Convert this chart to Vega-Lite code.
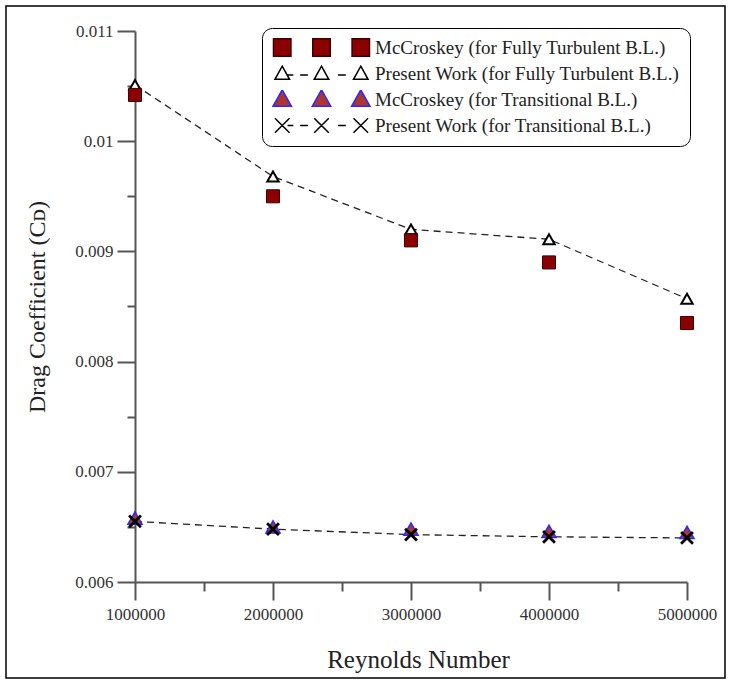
{
  "$schema": "https://vega.github.io/schema/vega-lite/v6.json",
  "width": 719,
  "height": 672,
  "autosize": "none",
  "padding": {"left": 6, "top": 6, "right": 4, "bottom": 5},
  "config": {"view": {"stroke": "black", "strokeWidth": 1.5}, "font": "Liberation Serif"},
  "data": {"values": [
    {"re": 1000000, "cd": 0.01042, "series": "McCroskey (for Fully Turbulent B.L.)"},
    {"re": 2000000, "cd": 0.00950, "series": "McCroskey (for Fully Turbulent B.L.)"},
    {"re": 3000000, "cd": 0.00910, "series": "McCroskey (for Fully Turbulent B.L.)"},
    {"re": 4000000, "cd": 0.00890, "series": "McCroskey (for Fully Turbulent B.L.)"},
    {"re": 5000000, "cd": 0.00835, "series": "McCroskey (for Fully Turbulent B.L.)"},
    {"re": 1000000, "cd": 0.01051, "series": "Present Work (for Fully Turbulent B.L.)"},
    {"re": 2000000, "cd": 0.00968, "series": "Present Work (for Fully Turbulent B.L.)"},
    {"re": 3000000, "cd": 0.00920, "series": "Present Work (for Fully Turbulent B.L.)"},
    {"re": 4000000, "cd": 0.00911, "series": "Present Work (for Fully Turbulent B.L.)"},
    {"re": 5000000, "cd": 0.00857, "series": "Present Work (for Fully Turbulent B.L.)"},
    {"re": 1000000, "cd": 0.00658, "series": "McCroskey (for Transitional B.L.)"},
    {"re": 2000000, "cd": 0.00650, "series": "McCroskey (for Transitional B.L.)"},
    {"re": 3000000, "cd": 0.00648, "series": "McCroskey (for Transitional B.L.)"},
    {"re": 4000000, "cd": 0.00646, "series": "McCroskey (for Transitional B.L.)"},
    {"re": 5000000, "cd": 0.00645, "series": "McCroskey (for Transitional B.L.)"},
    {"re": 1000000, "cd": 0.00655, "series": "Present Work (for Transitional B.L.)"},
    {"re": 2000000, "cd": 0.00648, "series": "Present Work (for Transitional B.L.)"},
    {"re": 3000000, "cd": 0.00643, "series": "Present Work (for Transitional B.L.)"},
    {"re": 4000000, "cd": 0.00641, "series": "Present Work (for Transitional B.L.)"},
    {"re": 5000000, "cd": 0.00640, "series": "Present Work (for Transitional B.L.)"}
  ]},
  "resolve": {"axis": {"x": "independent", "y": "independent"}},
  "layer": [
    {
      "transform": [{"filter": "indexof(datum.series, 'Present') == 0"}],
      "mark": {"type": "line", "stroke": "#222", "strokeWidth": 1.3, "strokeDash": [7, 5]},
      "encoding": {
        "x": {"field": "re", "type": "quantitative",
          "scale": {"domain": [1000000, 5000000], "range": [129, 681], "nice": false, "zero": false},
          "axis": {"orient": "bottom", "offset": -96, "values": [1000000, 2000000, 3000000, 4000000, 5000000],
            "format": "d", "grid": false, "labelFlush": false, "tickSize": 18, "tickWidth": 2, "tickColor": "#555", "domainColor": "#555", "domainWidth": 2,
            "labelFont": "Liberation Serif", "labelFontSize": 17, "labelColor": "#333", "labelPadding": 6,
            "title": "Reynolds Number", "titleX": 412, "titleFont": "Liberation Serif", "titleFontSize": 25, "titleFontWeight": "normal", "titleColor": "#222", "titlePadding": 25}},
        "y": {"field": "cd", "type": "quantitative",
          "scale": {"domain": [0.006, 0.011], "range": [576, 25], "nice": false, "zero": false},
          "axis": {"orient": "left", "offset": -129, "values": [0.006, 0.007, 0.008, 0.009, 0.01, 0.011],
            "format": ".3~f", "grid": false, "labelFlush": false, "tickSize": 18, "tickWidth": 2, "tickColor": "#555", "domainColor": "#555", "domainWidth": 2,
            "labelFont": "Liberation Serif", "labelFontSize": 17, "labelColor": "#333", "labelPadding": 4,
            "title": "Drag Coefficient (Cᴅ)", "titleFont": "Liberation Serif", "titleFontSize": 24, "titleFontWeight": "normal", "titleColor": "#222", "titlePadding": 25}},
        "detail": {"field": "series", "type": "nominal"}
      }
    },
    {
      "transform": [{"filter": "datum.series == 'Present Work (for Fully Turbulent B.L.)'"}],
      "mark": {"type": "point", "shape": "triangle-up", "filled": true, "fill": "white", "stroke": "black", "strokeWidth": 2, "size": 130, "opacity": 1},
      "encoding": {
        "x": {"field": "re", "type": "quantitative",
          "axis": {"orient": "bottom", "offset": -96, "values": [1500000, 2500000, 3500000, 4500000],
            "labels": false, "domain": false, "grid": false, "tickSize": 9, "tickWidth": 2, "tickColor": "#555", "title": null}},
        "y": {"field": "cd", "type": "quantitative",
          "axis": {"orient": "left", "offset": -129, "values": [0.0065, 0.0075, 0.0085, 0.0095, 0.0105],
            "labels": false, "domain": false, "grid": false, "tickSize": 8, "tickWidth": 2, "tickColor": "#555", "title": null}}
      }
    },
    {
      "transform": [{"filter": "datum.series == 'McCroskey (for Fully Turbulent B.L.)'"}],
      "mark": {"type": "point", "shape": "square", "filled": true, "fill": "#8b0000", "stroke": "#3b0000", "strokeWidth": 1, "size": 170, "opacity": 1},
      "encoding": {
        "x": {"field": "re", "type": "quantitative", "axis": null},
        "y": {"field": "cd", "type": "quantitative", "axis": null}
      }
    },
    {
      "transform": [{"filter": "datum.series == 'McCroskey (for Transitional B.L.)'"}],
      "mark": {"type": "point", "shape": "triangle-up", "filled": true, "fill": "#b0352c", "stroke": "#2a2aff", "strokeWidth": 1.5, "size": 200, "opacity": 1},
      "encoding": {
        "x": {"field": "re", "type": "quantitative", "axis": null},
        "y": {"field": "cd", "type": "quantitative", "axis": null}
      }
    },
    {
      "transform": [{"filter": "datum.series == 'Present Work (for Transitional B.L.)'"}],
      "mark": {"type": "point", "shape": "M-1,-1L1,1M-1,1L1,-1", "filled": false, "stroke": "black", "strokeWidth": 2.8, "size": 140, "opacity": 1},
      "encoding": {
        "x": {"field": "re", "type": "quantitative", "axis": null},
        "y": {"field": "cd", "type": "quantitative", "axis": null}
      }
    },
    {
      "transform": [{"filter": "datum.re < 0"}],
      "mark": {"type": "point", "filled": true},
      "encoding": {
        "x": {"field": "re", "type": "quantitative", "axis": null},
        "y": {"field": "cd", "type": "quantitative", "axis": null},
        "shape": {"field": "series", "type": "nominal",
          "scale": {
            "domain": ["McCroskey (for Fully Turbulent B.L.)", "Present Work (for Fully Turbulent B.L.)", "McCroskey (for Transitional B.L.)", "Present Work (for Transitional B.L.)"],
            "range": [
              "M-0.99,-0.18H-0.63V0.18H-0.99Z M-0.18,-0.18H0.18V0.18H-0.18Z M0.63,-0.18H0.99V0.18H0.63Z",
              "M-0.81,-0.15L-0.66,0.12L-0.96,0.12Z M0,-0.15L0.15,0.12L-0.15,0.12Z M0.81,-0.15L0.96,0.12L0.66,0.12Z M-0.70,0.03L-0.58,0.03 M-0.44,0.03L-0.28,0.03 M0.34,0.03L0.50,0.03",
              "M-0.81,-0.2L-0.62,0.14L-1,0.14Z M0,-0.2L0.19,0.14L-0.19,0.14Z M0.81,-0.2L1,0.14L0.62,0.14Z",
              "M-0.96,-0.15L-0.66,0.15M-0.96,0.15L-0.66,-0.15 M-0.15,-0.15L0.15,0.15M-0.15,0.15L0.15,-0.15 M0.66,-0.15L0.96,0.15M0.66,0.15L0.96,-0.15 M-0.70,0L-0.58,0 M-0.44,0L-0.28,0 M0.34,0L0.50,0"
            ]},
          "legend": {"orient": "none", "legendX": 256, "legendY": 22, "title": null,
            "symbolSize": 9409, "symbolStrokeWidth": 1.5, "symbolOpacity": 1, "clipHeight": 19,
            "labelFont": "Liberation Serif", "labelFontSize": 19, "labelColor": "#222", "labelLimit": 0, "labelOffset": 4,
            "strokeColor": "black", "cornerRadius": 10, "fillColor": "white", "padding": 10, "rowPadding": 6}},
        "fill": {"field": "series", "type": "nominal",
          "scale": {
            "domain": ["McCroskey (for Fully Turbulent B.L.)", "Present Work (for Fully Turbulent B.L.)", "McCroskey (for Transitional B.L.)", "Present Work (for Transitional B.L.)"],
            "range": ["#8b0000", "white", "#b0352c", "black"]}},
        "stroke": {"field": "series", "type": "nominal",
          "scale": {
            "domain": ["McCroskey (for Fully Turbulent B.L.)", "Present Work (for Fully Turbulent B.L.)", "McCroskey (for Transitional B.L.)", "Present Work (for Transitional B.L.)"],
            "range": ["#3b0000", "black", "#2a2aff", "black"]}}
      }
    }
  ]
}
